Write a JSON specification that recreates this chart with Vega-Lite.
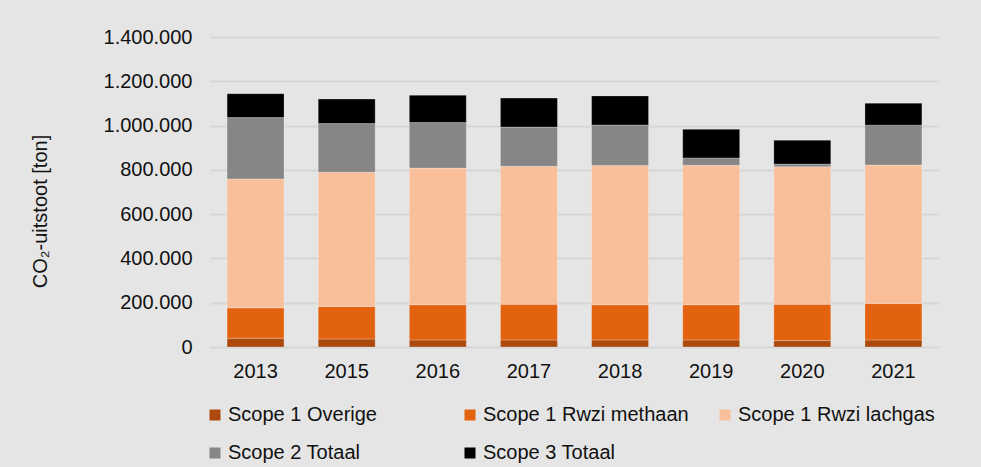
{
  "$schema": "https://vega.github.io/schema/vega-lite/v6.json",
  "width": 729,
  "height": 310,
  "autosize": {"type": "none"},
  "padding": {"left": 210, "top": 37, "right": 42, "bottom": 120},
  "background": "#e5e5e5",
  "config": {
    "locale": {"number": {"decimal": ",", "thousands": ".", "grouping": [3], "currency": ["€", ""]}},
    "font": "Liberation Sans",
    "view": {"stroke": null},
    "axis": {"labelFont": "Liberation Sans", "titleFont": "Liberation Sans", "labelColor": "#111", "titleColor": "#111"}
  },
  "data": {"values": [
    {"jaar": "2013", "categorie": "Scope 1 Overige", "waarde": 40000},
    {"jaar": "2013", "categorie": "Scope 1 Rwzi methaan", "waarde": 137000},
    {"jaar": "2013", "categorie": "Scope 1 Rwzi lachgas", "waarde": 582000},
    {"jaar": "2013", "categorie": "Scope 2 Totaal", "waarde": 277000},
    {"jaar": "2013", "categorie": "Scope 3 Totaal", "waarde": 108000},
    {"jaar": "2015", "categorie": "Scope 1 Overige", "waarde": 36000},
    {"jaar": "2015", "categorie": "Scope 1 Rwzi methaan", "waarde": 147000},
    {"jaar": "2015", "categorie": "Scope 1 Rwzi lachgas", "waarde": 606000},
    {"jaar": "2015", "categorie": "Scope 2 Totaal", "waarde": 220000},
    {"jaar": "2015", "categorie": "Scope 3 Totaal", "waarde": 111000},
    {"jaar": "2016", "categorie": "Scope 1 Overige", "waarde": 32000},
    {"jaar": "2016", "categorie": "Scope 1 Rwzi methaan", "waarde": 159000},
    {"jaar": "2016", "categorie": "Scope 1 Rwzi lachgas", "waarde": 617000},
    {"jaar": "2016", "categorie": "Scope 2 Totaal", "waarde": 206000},
    {"jaar": "2016", "categorie": "Scope 3 Totaal", "waarde": 123000},
    {"jaar": "2017", "categorie": "Scope 1 Overige", "waarde": 32000},
    {"jaar": "2017", "categorie": "Scope 1 Rwzi methaan", "waarde": 161000},
    {"jaar": "2017", "categorie": "Scope 1 Rwzi lachgas", "waarde": 623000},
    {"jaar": "2017", "categorie": "Scope 2 Totaal", "waarde": 177000},
    {"jaar": "2017", "categorie": "Scope 3 Totaal", "waarde": 131000},
    {"jaar": "2018", "categorie": "Scope 1 Overige", "waarde": 32000},
    {"jaar": "2018", "categorie": "Scope 1 Rwzi methaan", "waarde": 159000},
    {"jaar": "2018", "categorie": "Scope 1 Rwzi lachgas", "waarde": 629000},
    {"jaar": "2018", "categorie": "Scope 2 Totaal", "waarde": 183000},
    {"jaar": "2018", "categorie": "Scope 3 Totaal", "waarde": 131000},
    {"jaar": "2019", "categorie": "Scope 1 Overige", "waarde": 32000},
    {"jaar": "2019", "categorie": "Scope 1 Rwzi methaan", "waarde": 159000},
    {"jaar": "2019", "categorie": "Scope 1 Rwzi lachgas", "waarde": 630000},
    {"jaar": "2019", "categorie": "Scope 2 Totaal", "waarde": 33000},
    {"jaar": "2019", "categorie": "Scope 3 Totaal", "waarde": 129000},
    {"jaar": "2020", "categorie": "Scope 1 Overige", "waarde": 29000},
    {"jaar": "2020", "categorie": "Scope 1 Rwzi methaan", "waarde": 164000},
    {"jaar": "2020", "categorie": "Scope 1 Rwzi lachgas", "waarde": 621000},
    {"jaar": "2020", "categorie": "Scope 2 Totaal", "waarde": 12000},
    {"jaar": "2020", "categorie": "Scope 3 Totaal", "waarde": 108000},
    {"jaar": "2021", "categorie": "Scope 1 Overige", "waarde": 32000},
    {"jaar": "2021", "categorie": "Scope 1 Rwzi methaan", "waarde": 164000},
    {"jaar": "2021", "categorie": "Scope 1 Rwzi lachgas", "waarde": 626000},
    {"jaar": "2021", "categorie": "Scope 2 Totaal", "waarde": 180000},
    {"jaar": "2021", "categorie": "Scope 3 Totaal", "waarde": 99000}
  ]},
  "transform": [
    {"calculate": "indexof(['Scope 1 Overige', 'Scope 1 Rwzi methaan', 'Scope 1 Rwzi lachgas', 'Scope 2 Totaal', 'Scope 3 Totaal'], datum.categorie)", "as": "volgorde"}
  ],
  "mark": {"type": "bar", "stroke": "white", "strokeOpacity": 0.25, "strokeWidth": 1},
  "encoding": {
    "x": {
      "field": "jaar", "type": "nominal", "title": null,
      "scale": {"paddingInner": 0.375},
      "axis": {"labelAngle": 0, "ticks": false, "domain": false, "labelFontSize": 20, "labelPadding": 14}
    },
    "y": {
      "field": "waarde", "type": "quantitative", "stack": "zero",
      "title": "CO₂-uitstoot [ton]",
      "scale": {"domain": [0, 1400000], "nice": false},
      "axis": {
        "values": [0, 200000, 400000, 600000, 800000, 1000000, 1200000, 1400000],
        "format": ",d", "ticks": false, "domain": false, "labelFontSize": 20, "labelPadding": 18,
        "gridColor": "#d6d6d6", "gridWidth": 2,
        "titleFontSize": 20, "titleFontWeight": "normal", "titleX": -170, "titleY": 174, "titleBaseline": "middle"
      }
    },
    "order": {"field": "volgorde", "type": "quantitative", "sort": "ascending"},
    "color": {
      "field": "categorie", "type": "nominal",
      "scale": {
        "domain": ["Scope 1 Overige", "Scope 1 Rwzi methaan", "Scope 1 Rwzi lachgas", "Scope 2 Totaal", "Scope 3 Totaal"],
        "range": ["#ab4a0c", "#e36210", "#f8bf9a", "#878585", "#000000"]
      },
      "legend": {
        "title": null, "orient": "none", "legendX": -5, "legendY": 368, "direction": "horizontal", "columns": 3,
        "gridAlign": "all", "columnPadding": 26, "rowPadding": 18,
        "symbolType": "square", "symbolSize": 121, "symbolStrokeWidth": 0,
        "labelFontSize": 20, "labelFont": "Liberation Sans", "labelColor": "#111", "labelOffset": 3, "labelLimit": 300
      }
    }
  }
}
